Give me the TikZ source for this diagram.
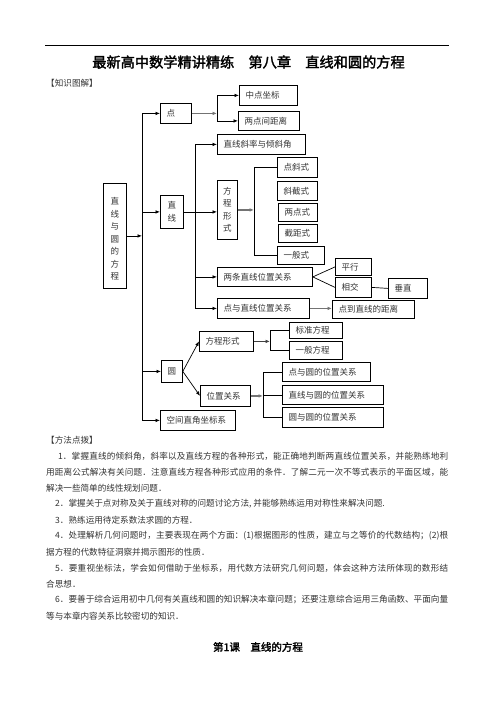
\documentclass[tikz,border=0pt]{standalone}
\usepackage{fontspec}
\usetikzlibrary{arrows.meta}
\newfontfamily\cjk{Noto Sans CJK SC}
\newfontfamily\cjkb[FakeBold=2]{Noto Sans CJK SC}
\XeTeXlinebreaklocale "zh"
\XeTeXlinebreakskip=0pt plus 1pt
\tikzset{
  boxst/.style={draw=black, line width=0.8pt, inner sep=0pt},
  txt/.style={font=\cjk\fontsize{8.5}{10}\selectfont, text=black!80, inner sep=0pt},
  vtxt/.style={font=\cjk\fontsize{8.5}{12.5}\selectfont, text=black!80, inner sep=0pt, align=center},
  arr/.style={-{Latex[length=4.5pt,width=3.6pt]}, line width=0.7pt},
  ln/.style={line width=0.7pt},
  tharr/.style={-{Latex[length=4.5pt,width=3.6pt]}, line width=1.6pt, draw=black!55},
  body/.style={font=\cjk\fontsize{8.6}{10}\selectfont, text=black!80, inner sep=0pt, anchor=west},
}
\newcommand\bx[6]{%
  \pgfmathsetmacro\bw{#4-#2}\pgfmathsetmacro\bh{#5-#3}%
  \node[boxst, anchor=north west, minimum width=\bw pt, minimum height=\bh pt] (#1) at (#2,#3) {};%
  \node[txt, anchor=west] (#1-t) at ([xshift=6.5pt]#1.west) {#6};}
\newcommand\bxv[7]{%
  \pgfmathsetmacro\bw{#4-#2}\pgfmathsetmacro\bh{#5-#3}%
  \node[boxst, anchor=north west, minimum width=\bw pt, minimum height=\bh pt] (#1) at (#2,#3) {};%
  \node[vtxt] (#1-t) at ([yshift=#6pt]#1.center) {#7};}
\newcommand\jl[4]{\node[body] (#1) at (#2,#3) {\parbox{\dimexpr448pt-#2pt\relax}{\parfillskip=0pt\relax #4}};}
\newcommand\pl[4]{\node[body] (#1) at (#2,#3) {#4};}
\begin{document}
\begin{tikzpicture}[x=1pt,y=-1pt]
\useasboundingbox (0,0) rectangle (496,702);
\fill[white] (0,0) rectangle (496,702);
% header
\coordinate (r1) at (45,45);
\coordinate (r2) at (449,45);
\draw[line width=0.8pt] (r1) -- (r2);
\node[font=\cjkb\fontsize{14.2}{16}\selectfont, inner sep=0pt] (title) at (248.5,62) {最新高中数学精讲精练　第八章　直线和圆的方程};
\pl{zstj}{46}{83}{【知识图解】}
% boxes
\bxv{root}{103}{183}{126}{288}{-3}{直\\线\\与\\圆\\的\\方\\程}
\bx{dian}{160}{103}{191}{123}{点}
\bx{zdzb}{239}{85}{297}{105}{中点坐标}
\bx{ldjl}{238}{111}{299}{130}{两点间距离}
\bx{xl}{217}{134}{305}{154}{直线斜率与倾斜角}
\bxv{zhixian}{160}{195}{183}{228}{0}{直\\线}
\bxv{fcxs}{217}{180}{237}{239}{0}{方\\程\\形\\式}
\bx{dxs}{277}{157}{317}{177}{点斜式}
\bx{xjs}{277}{181}{317}{200}{斜截式}
\bx{lds}{278}{203}{317}{221}{两点式}
\bx{jjs}{278}{224}{317}{242}{截距式}
\bx{ybs}{277}{246}{324}{264}{一般式}
\bx{ltzx}{217}{267}{312}{286}{两条直线位置关系}
\bx{px}{335}{258}{371}{275}{平行}
\bx{xj}{335}{277}{371}{297}{相交}
\bx{cz}{388}{278}{427}{298}{垂直}
\bx{dzx}{217}{298}{309}{318}{点与直线位置关系}
\bx{ddzx}{332}{300}{414}{318}{点到直线的距离}
\bx{fcxs2}{199}{331}{253}{351}{方程形式}
\bx{bzfc}{289}{322}{342}{338}{标准方程}
\bx{ybfc}{289}{341}{342}{359}{一般方程}
\bx{yuan}{161}{360}{182}{382}{圆}
\bx{wzgx}{200}{385}{250}{406}{位置关系}
\bx{dyy}{282}{362}{370}{381}{点与圆的位置关系}
\bx{zxyy}{282}{385}{383}{404}{直线与圆的位置关系}
\bx{yyy}{282}{407}{383}{427}{圆与圆的位置关系}
\bx{kj}{160}{410}{235}{430}{空间直角坐标系}
% main bar
\coordinate (mb1) at (142,113);
\coordinate (mb2) at (142,420);
\draw[ln] (mb1) -- (mb2);
\draw[arr] (dian.west -| mb1) -- (dian.west);
\draw[arr] (zhixian.west -| mb1) -- (zhixian.west);
\draw[arr] (yuan.west -| mb1) -- (yuan.west);
\draw[arr] (kj.west -| mb1) -- (kj.west);
\draw[arr] (root.east) -- (root.east -| mb1);
% point branch
\coordinate (b1) at (217,110);
\draw[tharr] (dian.east) -- (dian.east -| b1);
\draw[ln] (zdzb.west -| b1) -- (ldjl.west -| b1);
\draw[arr] (zdzb.west -| b1) -- (zdzb.west);
\draw[arr] (ldjl.west -| b1) -- (ldjl.west);
% line branch
\coordinate (b2) at (195,0);
\draw[ln] (xl.west -| b2) -- (dzx.west -| b2);
\draw[arr] (xl.west -| b2) -- (xl.west);
\draw[arr] (ltzx.west -| b2) -- (ltzx.west);
\draw[arr] (dzx.west -| b2) -- (dzx.west);
\draw[arr] (zhixian.east) -- (zhixian.east -| fcxs.west);
\coordinate (b3) at (254,0);
\draw[tharr] (fcxs.east) -- (fcxs.east -| b3);
\draw[ln] (dxs.west) -| (b3 |- ybs.west) -- (ybs.west);
\draw[ln] (ltzx.east) -- (px.west);
\draw[ln] (ltzx.east) -- (xj.west);
\draw[ln] (xj.east) -- (cz.west);
\draw[tharr] (dzx.east) -- (dzx.east -| ddzx.west);
% circle branch
\draw[arr] (yuan.east) -- (fcxs2.west);
\draw[arr] (yuan.east) -- (wzgx.west);
\coordinate (b4) at (270,0);
\draw[arr, line width=1pt, draw=black!75] (fcxs2.east) -- (fcxs2.east -| b4);
\draw[ln] (bzfc.west) -| (b4 |- ybfc.west) -- (ybfc.west);
\coordinate (b5) at (263,0);
\draw[tharr] (wzgx.east) -- (wzgx.east -| b5);
\draw[ln] (dyy.west) -| (b5 |- yyy.west) -- (yyy.west);
\draw[ln] (zxyy.west -| b5) -- (zxyy.west);
% method text
\pl{ffdb}{46}{440}{【方法点拨】}
\jl{t1}{58}{456}{1．掌握直线的倾斜角，斜率以及直线方程的各种形式，能正确地判断两直线位置关系，并能熟练地利}
\jl{t2}{46}{472}{用距离公式解决有关问题．注意直线方程各种形式应用的条件．了解二元一次不等式表示的平面区域，能}
\pl{t3}{46}{488}{解决一些简单的线性规划问题．}
\pl{t4}{55}{504}{2．掌握关于点对称及关于直线对称的问题讨论方法, 并能够熟练运用对称性来解决问题.}
\pl{t5}{55}{520}{3．熟练运用待定系数法求圆的方程．}
\jl{t6}{55}{536}{4．处理解析几何问题时，主要表现在两个方面：(1)根据图形的性质，建立与之等价的代数结构；(2)根}
\pl{t7}{46}{552}{据方程的代数特征洞察并揭示图形的性质．}
\jl{t8}{55}{568}{5．要重视坐标法，学会如何借助于坐标系，用代数方法研究几何问题，体会这种方法所体现的数形结}
\pl{t9}{46}{584}{合思想．}
\jl{t10}{55}{600}{6．要善于综合运用初中几何有关直线和圆的知识解决本章问题；还要注意综合运用三角函数、平面向量}
\pl{t11}{46}{616}{等与本章内容关系比较密切的知识．}
\node[font=\cjkb\fontsize{10.5}{12}\selectfont, inner sep=0pt] (lesson) at (258,647) {第1课　直线的方程};
\end{tikzpicture}
\end{document}
